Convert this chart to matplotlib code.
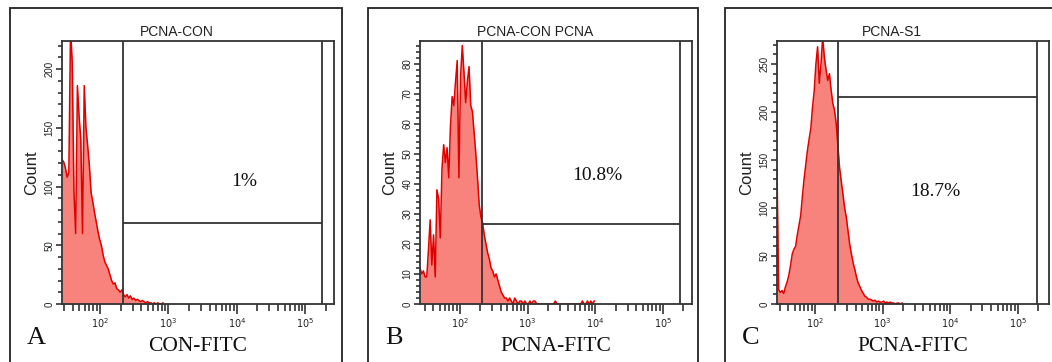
import numpy as np
import matplotlib
matplotlib.use('Agg')
import matplotlib.pyplot as plt
from matplotlib.patches import Rectangle
from matplotlib.ticker import LogLocator, NullFormatter, MultipleLocator

# данные
titles = ['PCNA-CON', 'PCNA-CON PCNA', 'PCNA-S1']
xlabels = ['CON-FITC', 'PCNA-FITC', 'PCNA-FITC']
letters = ['A', 'B', 'C']
percents = ['1%', '10.8%', '18.7%']

bin_width = 0.025          # шаг каналов, декады log10
log_start = [1.445, 1.41, 1.44]

counts_a = [123, 121, 116, 108, 112, 235, 205, 95, 60, 186, 160, 140, 60, 186,
            150, 135, 118, 95, 87, 78, 70, 62, 55, 50, 42, 36, 33, 30, 25, 20,
            17, 18, 13, 12, 10, 12, 8, 6, 8, 5, 7, 4, 5, 3, 4, 3, 2, 3, 2, 1,
            2, 1, 1, 0, 1, 0, 1, 0, 0, 1]

counts_b = [12, 10, 11, 9, 9, 18, 28, 13, 23, 9, 38, 35, 22, 45, 53, 47, 52,
            42, 59, 69, 66, 74, 81, 42, 76, 86, 77, 67, 74, 79, 66, 64, 57, 50,
            42, 33, 29, 27, 23, 20, 17, 15, 12, 11, 9, 10, 8, 6, 4, 3, 2, 2, 1,
            2, 1, 0, 2, 1, 0, 1, 1, 0, 1, 0, 0, 1, 0, 1, 1, 0,
            0, 0, 0, 0, 0, 0, 0, 0, 0, 0, 1, 0, 0, 0, 0, 0, 0, 0, 0, 0,
            0, 0, 0, 0, 0, 0, 1, 0, 0, 1, 0, 1, 0, 1]

counts_c = [140, 15, 12, 14, 11, 18, 23, 30, 40, 52, 57, 60, 72, 82, 92, 112,
            130, 145, 160, 172, 183, 205, 222, 250, 268, 230, 250, 278, 257,
            244, 233, 240, 223, 209, 202, 188, 165, 142, 128, 114, 100, 90, 76,
            62, 52, 43, 36, 28, 22, 18, 14, 11, 8, 7, 5, 5, 4, 3, 4, 2, 3, 2,
            2, 3, 1, 2, 1, 2, 1, 1, 0, 1, 1, 0, 1]

all_counts = [counts_a, counts_b, counts_c]

gate_lo = [216, 211, 219]
gate_hi = [178000, 178000, 190000]
gate_h = [68.6, 26.5, 216]

x_range = [(1.445, 5.42), (1.41, 5.43), (1.44, 5.46)]   # log10
y_top = [224, 87.5, 274]
y_major = [50, 10, 50]
y_minor = [10, 2, 10]

# раскладка (пиксели исходника)
W, H = 1052, 362
ax_left = [62, 420, 777]
ax_w, ax_bottom, ax_h = 272, 58, 263
box_left = [10, 368, 725]
box_right = [342, 698, 1060]
pct_pos = [(0.669, 0.464), (0.651, 0.49), (0.581, 0.426)]

fill_col = '#f7837c'
edge_col = '#e00000'
gate_col = '#333333'
sans = 'Liberation Sans'
serif = 'Liberation Serif'

fig = plt.figure(figsize=(W / 100, H / 100), dpi=100)

for k in range(3):
    ax = fig.add_axes([ax_left[k] / W, ax_bottom / H, ax_w / W, ax_h / H])
    vals = np.array(all_counts[k], dtype=float)
    chan = 10 ** (log_start[k] + bin_width * np.arange(len(vals)))
    ax.fill_between(chan, vals, 0, color=fill_col, lw=0, zorder=1)
    ax.plot(chan, vals, color=edge_col, lw=1.1, zorder=1.5)

    ax.set_xscale('log')
    ax.set_xlim(10 ** x_range[k][0], 10 ** x_range[k][1])
    ax.set_ylim(0, y_top[k])

    # гейт
    ax.vlines([gate_lo[k], gate_hi[k]], 0, y_top[k], color=gate_col, lw=1.3, zorder=3)
    ax.hlines(gate_h[k], gate_lo[k], gate_hi[k], color=gate_col, lw=1.3, zorder=3)

    ax.set_xticks([1e2, 1e3, 1e4, 1e5], labels=[r'$10^2$', r'$10^3$', r'$10^4$', r'$10^5$'])
    ax.xaxis.set_minor_locator(LogLocator(base=10, subs=np.arange(2, 10)))
    ax.xaxis.set_minor_formatter(NullFormatter())
    ax.yaxis.set_major_locator(MultipleLocator(y_major[k]))
    ax.yaxis.set_minor_locator(MultipleLocator(y_minor[k]))
    ax.tick_params(axis='x', which='major', length=7.5, width=1.1, pad=1.5,
                   labelsize=7, colors='#222222')
    ax.tick_params(axis='x', which='minor', length=5, width=1.1, color='#222222')
    ax.tick_params(axis='y', which='major', length=4.5, width=1.1, pad=1,
                   labelsize=7, labelrotation=90, colors='#222222')
    ax.tick_params(axis='y', which='minor', length=3, width=1.1, color='#222222')
    for lab in ax.get_yticklabels():
        lab.set_va('center')
        lab.set_family(sans)

    for s in ax.spines.values():
        s.set_color(gate_col)
        s.set_linewidth(1.3)

    ax.set_ylabel('Count', family=sans, fontsize=12, color='#222222')
    ax.yaxis.set_label_coords(-0.085, 0.5)

    ax.text(0.423, 1.034, titles[k], transform=ax.transAxes, ha='center',
            va='center', family=sans, fontsize=10, color='#222222')
    ax.text(0.5, -0.163, xlabels[k], transform=ax.transAxes, ha='center',
            va='center', family=serif, fontsize=15.5, color='#111111')
    ax.text(-0.095, -0.13, letters[k], transform=ax.transAxes, ha='center',
            va='center', family=serif, fontsize=19, color='#111111')
    ax.text(pct_pos[k][0], pct_pos[k][1], percents[k], transform=ax.transAxes,
            ha='center', va='center', family=serif, fontsize=14, color='#111111')

    # внешняя рамка панели
    fig.add_artist(Rectangle((box_left[k] / W, -0.1),
                             (box_right[k] - box_left[k]) / W, 1.1 - 8 / H,
                             transform=fig.transFigure, fill=False,
                             edgecolor='#222222', lw=1.3, clip_on=False))

fig.savefig('out.png', dpi=100)
